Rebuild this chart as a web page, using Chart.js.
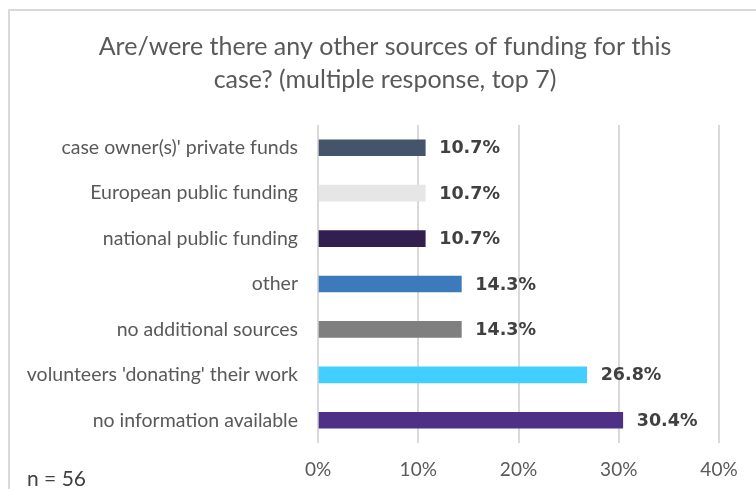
<!DOCTYPE html>
<html>
<head>
<meta charset="utf-8">
<script src="https://cdn.jsdelivr.net/npm/chart.js@4/dist/chart.umd.min.js"></script>
<style>
  html, body { margin: 0; padding: 0; background: #ffffff; }
  #wrap { position: relative; width: 756px; height: 489px; overflow: hidden; }
  #frame { position: absolute; left: 8px; top: 9px; width: 760px; height: 500px;
           border-left: 2px solid #d9d9d9; border-top: 2px solid #d9d9d9; }
  #c { position: absolute; left: 0; top: 0; }
  #n { position: absolute; left: 27px; top: 465px; font: 21px Lato, sans-serif; color: #404040; }
</style>
</head>
<body>
<div id="wrap">
  <div id="frame"></div>
  <canvas id="c" width="756" height="489"></canvas>
  <div id="n">n = 56</div>
</div>
<script>
const titleLines = ["Are/were there any other sources of funding for this", "case? (multiple response, top 7)"];
const categories = [
  "case owner(s)' private funds",
  "European public funding",
  "national public funding",
  "other",
  "no additional sources",
  "volunteers 'donating' their work",
  "no information available"
];
const values = [10.7, 10.7, 10.7, 14.3, 14.3, 26.8, 30.4];
const barColors = ["#44546a", "#e7e6e6", "#321f50", "#3d7abb", "#7f7f7f", "#40cfff", "#4e3186"];
const xTicks = [0, 10, 20, 30, 40];

const valueLabels = {
  id: 'valueLabels',
  afterDatasetsDraw(chart) {
    const ctx = chart.ctx;
    const meta = chart.getDatasetMeta(0);
    ctx.save();
    ctx.font = 'bold 17.5px "DejaVu Sans", Verdana, sans-serif';
    ctx.fillStyle = '#404040';
    ctx.textAlign = 'left';
    ctx.textBaseline = 'middle';
    meta.data.forEach((bar, i) => {
      ctx.fillText(values[i].toFixed(1) + '%', bar.x + 14, bar.y + 1);
    });
    ctx.restore();
  }
};

const titleDraw = {
  id: 'titleDraw',
  afterDraw(chart) {
    const ctx = chart.ctx;
    ctx.save();
    ctx.font = '25px Lato, sans-serif';
    ctx.fillStyle = '#595959';
    ctx.textAlign = 'center';
    ctx.textBaseline = 'middle';
    titleLines.forEach((t, i) => ctx.fillText(t, 385, 47 + i * 33));
    ctx.restore();
  }
};

new Chart(document.getElementById('c'), {
  type: 'bar',
  data: {
    labels: categories,
    datasets: [{
      data: values,
      backgroundColor: barColors,
      borderWidth: 0,
      barThickness: 16
    }]
  },
  options: {
    indexAxis: 'y',
    responsive: false,
    animation: false,
    devicePixelRatio: 1,
    layout: { padding: { left: 0, right: 37, top: 125, bottom: 0 } },
    plugins: {
      legend: { display: false },
      tooltip: { enabled: false },
      title: { display: false }
    },
    scales: {
      x: {
        min: 0, max: 40,
        afterBuildTicks(s) { s.ticks = xTicks.map(v => ({ value: v })); },
        afterFit(s) { s.height = 46; },
        grid: { color: '#d9d9d9', lineWidth: 2, drawTicks: false },
        border: { display: false },
        ticks: {
          padding: 15,
          color: '#595959',
          font: { family: 'Lato, sans-serif', size: 19 },
          callback: v => v + '%'
        }
      },
      y: {
        afterFit(s) { s.width = 318; },
        grid: { display: false, drawTicks: false },
        border: { display: false },
        ticks: {
          padding: 20,
          color: '#595959',
          font: { family: 'Lato, sans-serif', size: 19.5 }
        }
      }
    }
  },
  plugins: [valueLabels, titleDraw]
});
</script>
</body>
</html>
